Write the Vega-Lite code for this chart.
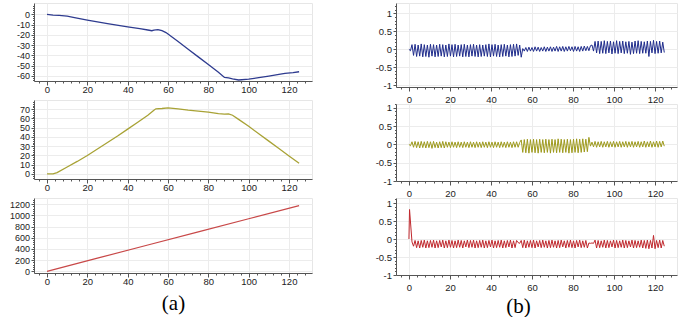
{
"$schema": "https://vega.github.io/schema/vega-lite/v6.json",
"padding": {"left": 8, "top": 2, "right": 2, "bottom": 0},
"spacing": 61,
"config": {"font": "Liberation Sans", "view": {"stroke": "#e6e6e6"}, "axis": {"domainColor": "#555", "tickColor": "#555", "gridColor": "#ececec", "labelColor": "#222", "labelOverlap": false, "labelFlush": false}},
"datasets": {
"lb": [{"x":0,"y":0},{"x":3,"y":-0.8},{"x":6,"y":-1},{"x":10,"y":-1.8},{"x":13,"y":-3},{"x":20,"y":-5.7},{"x":30,"y":-9.2},{"x":40,"y":-12.3},{"x":46,"y":-14},{"x":50,"y":-15.3},{"x":52,"y":-16},{"x":53,"y":-15.5},{"x":55,"y":-15},{"x":57,"y":-16},{"x":59,"y":-17.8},{"x":65,"y":-26.5},{"x":70,"y":-34},{"x":75,"y":-41.5},{"x":80,"y":-49},{"x":85,"y":-56.5},{"x":88,"y":-61.5},{"x":90,"y":-62},{"x":92,"y":-63},{"x":95,"y":-64},{"x":100,"y":-63.2},{"x":105,"y":-61.8},{"x":110,"y":-60.3},{"x":115,"y":-58.6},{"x":118,"y":-57.5},{"x":122,"y":-56.8},{"x":125,"y":-56}],
"lo": [{"x":0,"y":0},{"x":3,"y":0},{"x":5,"y":1.5},{"x":10,"y":7.5},{"x":15,"y":13.5},{"x":20,"y":20},{"x":25,"y":27},{"x":30,"y":34},{"x":35,"y":41},{"x":40,"y":48.5},{"x":45,"y":56},{"x":50,"y":63.5},{"x":53,"y":69},{"x":54,"y":70.5},{"x":57,"y":70.8},{"x":60,"y":71.5},{"x":65,"y":70.5},{"x":70,"y":69},{"x":75,"y":68},{"x":80,"y":66.8},{"x":85,"y":65.3},{"x":88,"y":64.8},{"x":90,"y":65},{"x":92,"y":63.5},{"x":95,"y":59},{"x":100,"y":51.5},{"x":105,"y":43.5},{"x":110,"y":35.5},{"x":115,"y":27.5},{"x":120,"y":19.5},{"x":125,"y":11.5}],
"lr": [{"x":0,"y":0},{"x":25,"y":235},{"x":50,"y":470},{"x":75,"y":705},{"x":100,"y":940},{"x":125,"y":1175}],
"rb": [{"x":0,"y":0},{"x":0.75,"y":-0.04},{"x":1.5,"y":0.13},{"x":2.25,"y":-0.17},{"x":3,"y":0.14},{"x":3.75,"y":-0.2},{"x":4.5,"y":0.12},{"x":5.25,"y":-0.19},{"x":6,"y":0.15},{"x":6.75,"y":-0.21},{"x":7.5,"y":0.13},{"x":8.25,"y":-0.2},{"x":9,"y":0.12},{"x":9.75,"y":-0.22},{"x":10.5,"y":0.14},{"x":11.25,"y":-0.19},{"x":12,"y":0.13},{"x":12.75,"y":-0.21},{"x":13.5,"y":0.12},{"x":14.25,"y":-0.2},{"x":15,"y":0.14},{"x":15.75,"y":-0.19},{"x":16.5,"y":0.13},{"x":17.25,"y":-0.21},{"x":18,"y":0.12},{"x":18.75,"y":-0.2},{"x":19.5,"y":0.15},{"x":20.25,"y":-0.19},{"x":21,"y":0.13},{"x":21.75,"y":-0.21},{"x":22.5,"y":0.14},{"x":23.25,"y":-0.2},{"x":24,"y":0.12},{"x":24.75,"y":-0.19},{"x":25.5,"y":0.13},{"x":26.25,"y":-0.21},{"x":27,"y":0.14},{"x":27.75,"y":-0.2},{"x":28.5,"y":0.12},{"x":29.25,"y":-0.21},{"x":30,"y":0.13},{"x":30.75,"y":-0.19},{"x":31.5,"y":0.14},{"x":32.25,"y":-0.2},{"x":33,"y":0.12},{"x":33.75,"y":-0.21},{"x":34.5,"y":0.13},{"x":35.25,"y":-0.2},{"x":36,"y":0.12},{"x":36.75,"y":-0.19},{"x":37.5,"y":0.13},{"x":38.25,"y":-0.2},{"x":39,"y":0.15},{"x":39.75,"y":-0.21},{"x":40.5,"y":0.13},{"x":41.25,"y":-0.19},{"x":42,"y":0.14},{"x":42.75,"y":-0.2},{"x":43.5,"y":0.12},{"x":44.25,"y":-0.21},{"x":45,"y":0.13},{"x":45.75,"y":-0.2},{"x":46.5,"y":0.14},{"x":47.25,"y":-0.19},{"x":48,"y":0.12},{"x":48.75,"y":-0.21},{"x":49.5,"y":0.13},{"x":50.25,"y":-0.2},{"x":51,"y":0.14},{"x":51.75,"y":-0.19},{"x":52.5,"y":0.15},{"x":53.25,"y":-0.17},{"x":54,"y":0.12},{"x":54.75,"y":-0.22},{"x":55.5,"y":0.02},{"x":56.25,"y":-0.05},{"x":57,"y":0.05},{"x":57.75,"y":-0.06},{"x":58.5,"y":0.06},{"x":59.25,"y":-0.05},{"x":60,"y":0.05},{"x":60.75,"y":-0.06},{"x":61.5,"y":0.07},{"x":62.25,"y":-0.05},{"x":63,"y":0.06},{"x":63.75,"y":-0.06},{"x":64.5,"y":0.05},{"x":65.25,"y":-0.05},{"x":66,"y":0.07},{"x":66.75,"y":-0.06},{"x":67.5,"y":0.06},{"x":68.25,"y":-0.05},{"x":69,"y":0.07},{"x":69.75,"y":-0.06},{"x":70.5,"y":0.06},{"x":71.25,"y":-0.05},{"x":72,"y":0.08},{"x":72.75,"y":-0.06},{"x":73.5,"y":0.07},{"x":74.25,"y":-0.05},{"x":75,"y":0.08},{"x":75.75,"y":-0.06},{"x":76.5,"y":0.07},{"x":77.25,"y":-0.05},{"x":78,"y":0.08},{"x":78.75,"y":-0.04},{"x":79.5,"y":0.07},{"x":80.25,"y":-0.06},{"x":81,"y":0.08},{"x":81.75,"y":-0.05},{"x":82.5,"y":0.07},{"x":83.25,"y":-0.06},{"x":84,"y":0.08},{"x":84.75,"y":-0.05},{"x":85.5,"y":0.09},{"x":86.25,"y":-0.04},{"x":87,"y":0.08},{"x":87.75,"y":-0.04},{"x":88.5,"y":0.1},{"x":89.25,"y":0.12},{"x":90,"y":-0.05},{"x":90.75,"y":0.22},{"x":91.5,"y":-0.1},{"x":92.25,"y":0.23},{"x":93,"y":-0.12},{"x":93.75,"y":0.22},{"x":94.5,"y":-0.11},{"x":95.25,"y":0.24},{"x":96,"y":-0.12},{"x":96.75,"y":0.22},{"x":97.5,"y":-0.1},{"x":98.25,"y":0.23},{"x":99,"y":-0.13},{"x":99.75,"y":0.21},{"x":100.5,"y":-0.11},{"x":101.25,"y":0.24},{"x":102,"y":-0.12},{"x":102.75,"y":0.22},{"x":103.5,"y":-0.1},{"x":104.25,"y":0.23},{"x":105,"y":-0.12},{"x":105.75,"y":0.21},{"x":106.5,"y":-0.11},{"x":107.25,"y":0.22},{"x":108,"y":-0.14},{"x":108.75,"y":0.2},{"x":109.5,"y":-0.12},{"x":110.25,"y":0.23},{"x":111,"y":-0.11},{"x":111.75,"y":0.24},{"x":112.5,"y":-0.12},{"x":113.25,"y":0.22},{"x":114,"y":-0.11},{"x":114.75,"y":0.21},{"x":115.5,"y":-0.11},{"x":116.25,"y":0.23},{"x":117,"y":-0.2},{"x":117.75,"y":0.22},{"x":118.5,"y":-0.1},{"x":119.25,"y":0.25},{"x":120,"y":-0.12},{"x":120.75,"y":0.22},{"x":121.5,"y":-0.11},{"x":122.25,"y":0.23},{"x":123,"y":-0.1},{"x":123.75,"y":0.2},{"x":124.5,"y":-0.09}],
"ro": [{"x":0,"y":0},{"x":0.75,"y":-0.04},{"x":1.5,"y":0.07},{"x":2.25,"y":-0.08},{"x":3,"y":0.08},{"x":3.75,"y":-0.09},{"x":4.5,"y":0.07},{"x":5.25,"y":-0.1},{"x":6,"y":0.08},{"x":6.75,"y":-0.09},{"x":7.5,"y":0.07},{"x":8.25,"y":-0.1},{"x":9,"y":0.08},{"x":9.75,"y":-0.09},{"x":10.5,"y":0.07},{"x":11.25,"y":-0.11},{"x":12,"y":0.08},{"x":12.75,"y":-0.09},{"x":13.5,"y":0.06},{"x":14.25,"y":-0.1},{"x":15,"y":0.07},{"x":15.75,"y":-0.09},{"x":16.5,"y":0.08},{"x":17.25,"y":-0.1},{"x":18,"y":0.07},{"x":18.75,"y":-0.08},{"x":19.5,"y":0.06},{"x":20.25,"y":-0.09},{"x":21,"y":0.07},{"x":21.75,"y":-0.08},{"x":22.5,"y":0.06},{"x":23.25,"y":-0.09},{"x":24,"y":0.07},{"x":24.75,"y":-0.08},{"x":25.5,"y":0.06},{"x":26.25,"y":-0.09},{"x":27,"y":0.07},{"x":27.75,"y":-0.08},{"x":28.5,"y":0.06},{"x":29.25,"y":-0.09},{"x":30,"y":0.07},{"x":30.75,"y":-0.08},{"x":31.5,"y":0.06},{"x":32.25,"y":-0.09},{"x":33,"y":0.07},{"x":33.75,"y":-0.08},{"x":34.5,"y":0.06},{"x":35.25,"y":-0.09},{"x":36,"y":0.07},{"x":36.75,"y":-0.08},{"x":37.5,"y":0.06},{"x":38.25,"y":-0.09},{"x":39,"y":0.07},{"x":39.75,"y":-0.08},{"x":40.5,"y":0.06},{"x":41.25,"y":-0.09},{"x":42,"y":0.07},{"x":42.75,"y":-0.08},{"x":43.5,"y":0.06},{"x":44.25,"y":-0.09},{"x":45,"y":0.07},{"x":45.75,"y":-0.08},{"x":46.5,"y":0.06},{"x":47.25,"y":-0.09},{"x":48,"y":0.07},{"x":48.75,"y":-0.08},{"x":49.5,"y":0.06},{"x":50.25,"y":-0.09},{"x":51,"y":0.07},{"x":51.75,"y":-0.08},{"x":52.5,"y":0.07},{"x":53.25,"y":-0.08},{"x":54,"y":0.05},{"x":54.75,"y":0.12},{"x":55.5,"y":-0.22},{"x":56.25,"y":0.13},{"x":57,"y":-0.23},{"x":57.75,"y":0.14},{"x":58.5,"y":-0.24},{"x":59.25,"y":0.13},{"x":60,"y":-0.22},{"x":60.75,"y":0.14},{"x":61.5,"y":-0.23},{"x":62.25,"y":0.13},{"x":63,"y":-0.24},{"x":63.75,"y":0.14},{"x":64.5,"y":-0.22},{"x":65.25,"y":0.13},{"x":66,"y":-0.23},{"x":66.75,"y":0.14},{"x":67.5,"y":-0.22},{"x":68.25,"y":0.13},{"x":69,"y":-0.24},{"x":69.75,"y":0.14},{"x":70.5,"y":-0.22},{"x":71.25,"y":0.13},{"x":72,"y":-0.23},{"x":72.75,"y":0.15},{"x":73.5,"y":-0.22},{"x":74.25,"y":0.14},{"x":75,"y":-0.23},{"x":75.75,"y":0.13},{"x":76.5,"y":-0.22},{"x":77.25,"y":0.14},{"x":78,"y":-0.24},{"x":78.75,"y":0.13},{"x":79.5,"y":-0.23},{"x":80.25,"y":0.14},{"x":81,"y":-0.22},{"x":81.75,"y":0.15},{"x":82.5,"y":-0.23},{"x":83.25,"y":0.14},{"x":84,"y":-0.22},{"x":84.75,"y":0.15},{"x":85.5,"y":-0.21},{"x":86.25,"y":0.14},{"x":87,"y":-0.2},{"x":87.75,"y":0.19},{"x":88.5,"y":-0.05},{"x":89.25,"y":0.06},{"x":90,"y":-0.07},{"x":90.75,"y":0.08},{"x":91.5,"y":-0.08},{"x":92.25,"y":0.07},{"x":93,"y":-0.07},{"x":93.75,"y":0.08},{"x":94.5,"y":-0.08},{"x":95.25,"y":0.07},{"x":96,"y":-0.07},{"x":96.75,"y":0.08},{"x":97.5,"y":-0.08},{"x":98.25,"y":0.07},{"x":99,"y":-0.07},{"x":99.75,"y":0.08},{"x":100.5,"y":-0.08},{"x":101.25,"y":0.07},{"x":102,"y":-0.07},{"x":102.75,"y":0.08},{"x":103.5,"y":-0.08},{"x":104.25,"y":0.07},{"x":105,"y":-0.07},{"x":105.75,"y":0.08},{"x":106.5,"y":-0.08},{"x":107.25,"y":0.07},{"x":108,"y":-0.07},{"x":108.75,"y":0.08},{"x":109.5,"y":-0.08},{"x":110.25,"y":0.07},{"x":111,"y":-0.07},{"x":111.75,"y":0.08},{"x":112.5,"y":-0.08},{"x":113.25,"y":0.07},{"x":114,"y":-0.07},{"x":114.75,"y":0.09},{"x":115.5,"y":-0.08},{"x":116.25,"y":0.07},{"x":117,"y":-0.07},{"x":117.75,"y":0.09},{"x":118.5,"y":-0.08},{"x":119.25,"y":0.07},{"x":120,"y":-0.07},{"x":120.75,"y":0.09},{"x":121.5,"y":-0.08},{"x":122.25,"y":0.08},{"x":123,"y":-0.07},{"x":123.75,"y":0.09},{"x":124.5,"y":-0.05}],
"rr": [{"x":0,"y":0},{"x":0.3,"y":0.82},{"x":1.5,"y":-0.08},{"x":2.25,"y":-0.2},{"x":3,"y":-0.04},{"x":3.75,"y":-0.24},{"x":4.5,"y":-0.05},{"x":5.25,"y":-0.25},{"x":6,"y":-0.04},{"x":6.75,"y":-0.23},{"x":7.5,"y":-0.03},{"x":8.25,"y":-0.25},{"x":9,"y":-0.05},{"x":9.75,"y":-0.24},{"x":10.5,"y":-0.04},{"x":11.25,"y":-0.23},{"x":12,"y":-0.03},{"x":12.75,"y":-0.25},{"x":13.5,"y":-0.05},{"x":14.25,"y":-0.24},{"x":15,"y":-0.04},{"x":15.75,"y":-0.22},{"x":16.5,"y":-0.03},{"x":17.25,"y":-0.25},{"x":18,"y":-0.05},{"x":18.75,"y":-0.24},{"x":19.5,"y":-0.03},{"x":20.25,"y":-0.23},{"x":21,"y":-0.04},{"x":21.75,"y":-0.25},{"x":22.5,"y":-0.05},{"x":23.25,"y":-0.24},{"x":24,"y":-0.03},{"x":24.75,"y":-0.23},{"x":25.5,"y":-0.04},{"x":26.25,"y":-0.25},{"x":27,"y":-0.05},{"x":27.75,"y":-0.22},{"x":28.5,"y":-0.03},{"x":29.25,"y":-0.24},{"x":30,"y":-0.04},{"x":30.75,"y":-0.23},{"x":31.5,"y":-0.03},{"x":32.25,"y":-0.25},{"x":33,"y":-0.05},{"x":33.75,"y":-0.24},{"x":34.5,"y":-0.04},{"x":35.25,"y":-0.23},{"x":36,"y":-0.03},{"x":36.75,"y":-0.25},{"x":37.5,"y":-0.05},{"x":38.25,"y":-0.24},{"x":39,"y":-0.04},{"x":39.75,"y":-0.22},{"x":40.5,"y":-0.03},{"x":41.25,"y":-0.25},{"x":42,"y":-0.05},{"x":42.75,"y":-0.24},{"x":43.5,"y":-0.04},{"x":44.25,"y":-0.23},{"x":45,"y":-0.03},{"x":45.75,"y":-0.25},{"x":46.5,"y":-0.05},{"x":47.25,"y":-0.24},{"x":48,"y":-0.04},{"x":48.75,"y":-0.22},{"x":49.5,"y":-0.03},{"x":50.25,"y":-0.25},{"x":51,"y":-0.05},{"x":51.75,"y":-0.24},{"x":52.5,"y":-0.04},{"x":53.25,"y":-0.1},{"x":54,"y":-0.12},{"x":54.75,"y":-0.04},{"x":55.5,"y":-0.24},{"x":56.25,"y":-0.03},{"x":57,"y":-0.25},{"x":57.75,"y":-0.05},{"x":58.5,"y":-0.23},{"x":59.25,"y":-0.04},{"x":60,"y":-0.24},{"x":60.75,"y":-0.03},{"x":61.5,"y":-0.25},{"x":62.25,"y":-0.05},{"x":63,"y":-0.22},{"x":63.75,"y":-0.04},{"x":64.5,"y":-0.24},{"x":65.25,"y":-0.03},{"x":66,"y":-0.23},{"x":66.75,"y":-0.05},{"x":67.5,"y":-0.25},{"x":68.25,"y":-0.04},{"x":69,"y":-0.24},{"x":69.75,"y":-0.03},{"x":70.5,"y":-0.23},{"x":71.25,"y":-0.05},{"x":72,"y":-0.25},{"x":72.75,"y":-0.04},{"x":73.5,"y":-0.24},{"x":74.25,"y":-0.03},{"x":75,"y":-0.22},{"x":75.75,"y":-0.05},{"x":76.5,"y":-0.25},{"x":77.25,"y":-0.04},{"x":78,"y":-0.23},{"x":78.75,"y":-0.03},{"x":79.5,"y":-0.24},{"x":80.25,"y":-0.05},{"x":81,"y":-0.25},{"x":81.75,"y":-0.04},{"x":82.5,"y":-0.22},{"x":83.25,"y":-0.03},{"x":84,"y":-0.24},{"x":84.75,"y":-0.05},{"x":85.5,"y":-0.23},{"x":86.25,"y":-0.04},{"x":87,"y":-0.25},{"x":87.75,"y":-0.11},{"x":88.5,"y":-0.12},{"x":89.25,"y":-0.11},{"x":90,"y":-0.12},{"x":90.75,"y":-0.03},{"x":91.5,"y":-0.25},{"x":92.25,"y":-0.04},{"x":93,"y":-0.24},{"x":93.75,"y":-0.05},{"x":94.5,"y":-0.23},{"x":95.25,"y":-0.03},{"x":96,"y":-0.25},{"x":96.75,"y":-0.04},{"x":97.5,"y":-0.24},{"x":98.25,"y":-0.05},{"x":99,"y":-0.22},{"x":99.75,"y":-0.03},{"x":100.5,"y":-0.25},{"x":101.25,"y":-0.04},{"x":102,"y":-0.24},{"x":102.75,"y":-0.05},{"x":103.5,"y":-0.23},{"x":104.25,"y":-0.03},{"x":105,"y":-0.25},{"x":105.75,"y":-0.04},{"x":106.5,"y":-0.24},{"x":107.25,"y":-0.05},{"x":108,"y":-0.22},{"x":108.75,"y":-0.03},{"x":109.5,"y":-0.25},{"x":110.25,"y":-0.04},{"x":111,"y":-0.24},{"x":111.75,"y":-0.05},{"x":112.5,"y":-0.23},{"x":113.25,"y":-0.03},{"x":114,"y":-0.25},{"x":114.75,"y":-0.04},{"x":115.5,"y":-0.26},{"x":116.25,"y":-0.03},{"x":117,"y":-0.27},{"x":117.75,"y":-0.04},{"x":118.5,"y":-0.25},{"x":119.25,"y":0.1},{"x":120,"y":-0.27},{"x":120.75,"y":-0.04},{"x":121.5,"y":-0.24},{"x":122.25,"y":-0.03},{"x":123,"y":-0.25},{"x":123.75,"y":-0.04},{"x":124.5,"y":-0.2}]
},
"hconcat": [
{"vconcat": [
 {"data": {"name": "lb"}, "width": 278, "height": 78,
  "mark": {"type": "line", "color": "#2e3b8f", "strokeWidth": 1.3},
  "encoding": {
   "x": {"field": "x", "type": "quantitative", "scale": {"domain": [-6.45, 131.4], "nice": false, "zero": false},
    "axis": {"title": null, "values": [-4,0,4,8,12,16,20,24,28,32,36,40,44,48,52,56,60,64,68,72,76,80,84,88,92,96,100,104,108,112,116,120,124,128], "labelExpr": "datum.value % 20 === 0 ? '' + datum.value : ''", "tickSize": {"condition": {"test": "datum.value % 20 === 0", "value": 4}, "value": 2}, "gridOpacity": {"condition": {"test": "datum.value % 20 === 0", "value": 1}, "value": 0}, "labelFontSize": {"condition": {"test": "datum.value % 20 === 0", "value": 9.5}, "value": 0}, "labelPadding": -1}},
   "y": {"field": "y", "type": "quantitative", "scale": {"domain": [-65, 11], "nice": false, "zero": false},
    "axis": {"title": null, "values": [-64,-62,-60,-58,-56,-54,-52,-50,-48,-46,-44,-42,-40,-38,-36,-34,-32,-30,-28,-26,-24,-22,-20,-18,-16,-14,-12,-10,-8,-6,-4,-2,0,2,4,6,8], "labelExpr": "datum.value % 10 === 0 ? '' + datum.value : ''", "tickSize": {"condition": {"test": "datum.value % 10 === 0", "value": 3}, "value": 1.5}, "gridOpacity": {"condition": {"test": "datum.value % 10 === 0", "value": 1}, "value": 0}, "labelFontSize": {"condition": {"test": "datum.value % 10 === 0", "value": 9}, "value": 0}, "labelPadding": 1.5}}
  }},
 {"data": {"name": "lo"}, "width": 278, "height": 79,
  "mark": {"type": "line", "color": "#a8a235", "strokeWidth": 1.3},
  "encoding": {
   "x": {"field": "x", "type": "quantitative", "scale": {"domain": [-6.45, 131.4], "nice": false, "zero": false},
    "axis": {"title": null, "values": [-4,0,4,8,12,16,20,24,28,32,36,40,44,48,52,56,60,64,68,72,76,80,84,88,92,96,100,104,108,112,116,120,124,128], "labelExpr": "datum.value % 20 === 0 ? '' + datum.value : ''", "tickSize": {"condition": {"test": "datum.value % 20 === 0", "value": 4}, "value": 2}, "gridOpacity": {"condition": {"test": "datum.value % 20 === 0", "value": 1}, "value": 0}, "labelFontSize": {"condition": {"test": "datum.value % 20 === 0", "value": 9.5}, "value": 0}, "labelPadding": -1}},
   "y": {"field": "y", "type": "quantitative", "scale": {"domain": [-5.5, 80], "nice": false, "zero": false},
    "axis": {"title": null, "values": [-4,-2,0,2,4,6,8,10,12,14,16,18,20,22,24,26,28,30,32,34,36,38,40,42,44,46,48,50,52,54,56,58,60,62,64,66,68,70,72,74,76,78], "labelExpr": "datum.value % 10 === 0 ? '' + datum.value : ''", "tickSize": {"condition": {"test": "datum.value % 10 === 0", "value": 3}, "value": 1.5}, "gridOpacity": {"condition": {"test": "datum.value % 10 === 0", "value": 1}, "value": 0}, "labelFontSize": {"condition": {"test": "datum.value % 10 === 0", "value": 9}, "value": 0}, "labelPadding": 1.5}}
  }},
 {"data": {"name": "lr"}, "width": 278, "height": 75,
  "mark": {"type": "line", "color": "#c84848", "strokeWidth": 1.2},
  "encoding": {
   "x": {"field": "x", "type": "quantitative", "scale": {"domain": [-6.45, 131.4], "nice": false, "zero": false},
    "axis": {"title": "(a)", "titleFont": "Liberation Serif", "titleFontSize": 21, "titleFontWeight": "normal", "titleColor": "#000", "titlePadding": 7, "values": [-4,0,4,8,12,16,20,24,28,32,36,40,44,48,52,56,60,64,68,72,76,80,84,88,92,96,100,104,108,112,116,120,124,128], "labelExpr": "datum.value % 20 === 0 ? '' + datum.value : ''", "tickSize": {"condition": {"test": "datum.value % 20 === 0", "value": 4}, "value": 2}, "gridOpacity": {"condition": {"test": "datum.value % 20 === 0", "value": 1}, "value": 0}, "labelFontSize": {"condition": {"test": "datum.value % 20 === 0", "value": 9.5}, "value": 0}, "labelPadding": -1}},
   "y": {"field": "y", "type": "quantitative", "scale": {"domain": [-30, 1310], "nice": false, "zero": false},
    "axis": {"title": null, "values": [0,40,80,120,160,200,240,280,320,360,400,440,480,520,560,600,640,680,720,760,800,840,880,920,960,1000,1040,1080,1120,1160,1200,1240,1280], "labelExpr": "datum.value % 200 === 0 ? '' + datum.value : ''", "tickSize": {"condition": {"test": "datum.value % 200 === 0", "value": 3}, "value": 1.5}, "gridOpacity": {"condition": {"test": "datum.value % 200 === 0", "value": 1}, "value": 0}, "labelFontSize": {"condition": {"test": "datum.value % 200 === 0", "value": 9}, "value": 0}, "labelPadding": 1.5}}
  }}
 ], "spacing": 19, "bounds": "flush"},
{"vconcat": [
 {"data": {"name": "rb"}, "width": 281, "height": 84,
  "mark": {"type": "line", "color": "#1f2c8c", "strokeWidth": 1},
  "encoding": {
   "x": {"field": "x", "type": "quantitative", "scale": {"domain": [-6.3, 130.7], "nice": false, "zero": false},
    "axis": {"title": null, "values": [-4,0,4,8,12,16,20,24,28,32,36,40,44,48,52,56,60,64,68,72,76,80,84,88,92,96,100,104,108,112,116,120,124,128], "labelExpr": "datum.value % 20 === 0 ? '' + datum.value : ''", "tickSize": {"condition": {"test": "datum.value % 20 === 0", "value": 4}, "value": 2}, "gridOpacity": {"condition": {"test": "datum.value % 20 === 0", "value": 1}, "value": 0}, "labelFontSize": {"condition": {"test": "datum.value % 20 === 0", "value": 9.5}, "value": 0}, "labelPadding": 3.5}},
   "y": {"field": "y", "type": "quantitative", "scale": {"domain": [-1.05, 1.29], "nice": false, "zero": false},
    "axis": {"title": null, "values": [-1,-0.9,-0.8,-0.7,-0.6,-0.5,-0.4,-0.3,-0.2,-0.1,0,0.1,0.2,0.3,0.4,0.5,0.6,0.7,0.8,0.9,1,1.1,1.2], "labelExpr": "abs(datum.value * 2 - round(datum.value * 2)) < 0.001 ? '' + datum.value : ''", "tickSize": {"condition": {"test": "abs(datum.value * 2 - round(datum.value * 2)) < 0.001", "value": 3}, "value": 1.5}, "gridOpacity": {"condition": {"test": "abs(datum.value * 2 - round(datum.value * 2)) < 0.001", "value": 1}, "value": 0}, "labelFontSize": {"condition": {"test": "abs(datum.value * 2 - round(datum.value * 2)) < 0.001", "value": 9.5}, "value": 0}, "labelPadding": 1.5}}
  }},
 {"data": {"name": "ro"}, "width": 281, "height": 77,
  "mark": {"type": "line", "color": "#9e9a1c", "strokeWidth": 1},
  "encoding": {
   "x": {"field": "x", "type": "quantitative", "scale": {"domain": [-6.3, 130.7], "nice": false, "zero": false},
    "axis": {"title": null, "values": [-4,0,4,8,12,16,20,24,28,32,36,40,44,48,52,56,60,64,68,72,76,80,84,88,92,96,100,104,108,112,116,120,124,128], "labelExpr": "datum.value % 20 === 0 ? '' + datum.value : ''", "tickSize": {"condition": {"test": "datum.value % 20 === 0", "value": 4}, "value": 2}, "gridOpacity": {"condition": {"test": "datum.value % 20 === 0", "value": 1}, "value": 0}, "labelFontSize": {"condition": {"test": "datum.value % 20 === 0", "value": 9.5}, "value": 0}, "labelPadding": 3.5}},
   "y": {"field": "y", "type": "quantitative", "scale": {"domain": [-1, 1.1], "nice": false, "zero": false},
    "axis": {"title": null, "values": [-1,-0.9,-0.8,-0.7,-0.6,-0.5,-0.4,-0.3,-0.2,-0.1,0,0.1,0.2,0.3,0.4,0.5,0.6,0.7,0.8,0.9,1,1.1], "labelExpr": "abs(datum.value * 2 - round(datum.value * 2)) < 0.001 ? '' + datum.value : ''", "tickSize": {"condition": {"test": "abs(datum.value * 2 - round(datum.value * 2)) < 0.001", "value": 3}, "value": 1.5}, "gridOpacity": {"condition": {"test": "abs(datum.value * 2 - round(datum.value * 2)) < 0.001", "value": 1}, "value": 0}, "labelFontSize": {"condition": {"test": "abs(datum.value * 2 - round(datum.value * 2)) < 0.001", "value": 9.5}, "value": 0}, "labelPadding": 1.5}}
  }},
 {"data": {"name": "rr"}, "width": 281, "height": 77,
  "mark": {"type": "line", "color": "#c0282d", "strokeWidth": 1},
  "encoding": {
   "x": {"field": "x", "type": "quantitative", "scale": {"domain": [-6.3, 130.7], "nice": false, "zero": false},
    "axis": {"title": "(b)", "titleX": 122, "titleFont": "Liberation Serif", "titleFontSize": 21, "titleFontWeight": "normal", "titleColor": "#000", "titlePadding": 3, "values": [-4,0,4,8,12,16,20,24,28,32,36,40,44,48,52,56,60,64,68,72,76,80,84,88,92,96,100,104,108,112,116,120,124,128], "labelExpr": "datum.value % 20 === 0 ? '' + datum.value : ''", "tickSize": {"condition": {"test": "datum.value % 20 === 0", "value": 4}, "value": 2}, "gridOpacity": {"condition": {"test": "datum.value % 20 === 0", "value": 1}, "value": 0}, "labelFontSize": {"condition": {"test": "datum.value % 20 === 0", "value": 9.5}, "value": 0}, "labelPadding": 3.5}},
   "y": {"field": "y", "type": "quantitative", "scale": {"domain": [-1, 1.14], "nice": false, "zero": false},
    "axis": {"title": null, "values": [-1,-0.9,-0.8,-0.7,-0.6,-0.5,-0.4,-0.3,-0.2,-0.1,0,0.1,0.2,0.3,0.4,0.5,0.6,0.7,0.8,0.9,1,1.1], "labelExpr": "abs(datum.value * 2 - round(datum.value * 2)) < 0.001 ? '' + datum.value : ''", "tickSize": {"condition": {"test": "abs(datum.value * 2 - round(datum.value * 2)) < 0.001", "value": 3}, "value": 1.5}, "gridOpacity": {"condition": {"test": "abs(datum.value * 2 - round(datum.value * 2)) < 0.001", "value": 1}, "value": 0}, "labelFontSize": {"condition": {"test": "abs(datum.value * 2 - round(datum.value * 2)) < 0.001", "value": 9.5}, "value": 0}, "labelPadding": 1.5}}
  }}
 ], "spacing": 17, "bounds": "flush"}
]
}
